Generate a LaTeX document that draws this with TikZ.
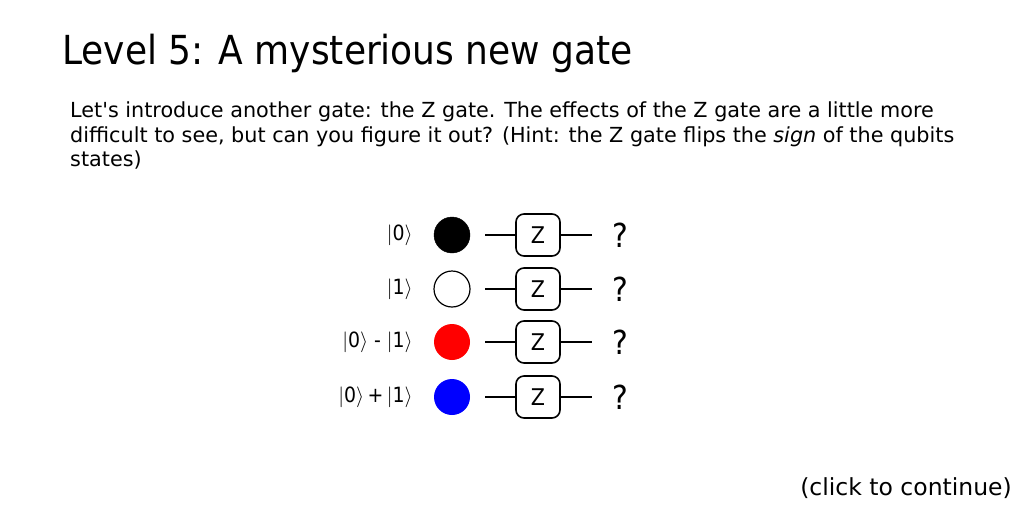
\documentclass[tikz,border=0pt]{standalone}
\usepackage{fontspec}
\setmainfont{DejaVu Sans}
\newfontfamily\condfont{DejaVu Sans Condensed}
\begin{document}
\begin{tikzpicture}[x=1pt,y=-1pt,
  gate/.style={draw,line width=1.6pt,rounded corners=8pt,minimum width=44pt,minimum height=42pt,inner sep=0pt,font=\condfont\fontsize{23}{26}\selectfont},
  qubit/.style={circle,minimum size=36pt,inner sep=0pt},
  qs1/.style={fill=black,draw=black},
  qs2/.style={fill=white,draw=black,line width=1.2pt},
  qs3/.style={fill=red},
  qs4/.style={fill=blue},
  ket/.style={anchor=east,inner sep=0pt,font=\condfont\fontsize{21}{24}\selectfont},
  qmark/.style={anchor=center,inner sep=0pt,font=\condfont\fontsize{33}{36}\selectfont},
  wire/.style={line width=1.6pt}]
\useasboundingbox (0,0) rectangle (1024,512);
\fill[white] (0,0) rectangle (1024,512);
\node[anchor=base west,inner sep=0pt,font=\condfont\fontsize{40}{44}\selectfont] (title) at (62,64) {Level 5: A mysterious new gate};
\node[anchor=north west,inner sep=0pt,align=left,font=\fontsize{20.75}{24.7}\selectfont] (body) at (70,101.5) {Let\textquotesingle s introduce another gate: the Z gate. The effects of the Z gate are a little more\\difficult to see, but can you figure it out? (Hint: the Z gate flips the \textit{sign} of the qubits\\states)};
\node[anchor=base east,inner sep=0pt,font=\fontsize{23.5}{26}\selectfont] (cont) at (1012,495) {(click to continue)};
\foreach \i/\y/\lab in {1/235/{$|$0$\rangle$},2/289/{$|$1$\rangle$},3/342/{$|$0$\rangle$ - $|$1$\rangle$},4/397/{$|$0$\rangle$\,+\,$|$1$\rangle$}}{
  \node[ket] (k\i) at (413,\y) {\lab};
  \node[qubit,qs\i] (q\i) at (452,\y) {};
  \node[gate] (g\i) at (538,\y) {Z};
  \coordinate (a\i) at (485,\y);
  \coordinate (b\i) at (592,\y);
  \draw[wire] (a\i) -- (g\i.west);
  \draw[wire] (g\i.east) -- (b\i);
  \node[qmark] (m\i) at (620,\y) {?};
}
\end{tikzpicture}
\end{document}
